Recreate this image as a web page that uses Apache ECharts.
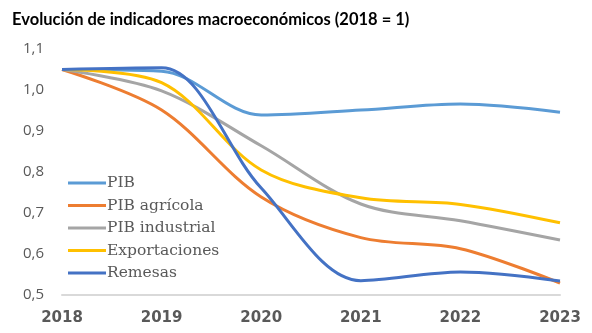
<!DOCTYPE html>
<html><head><meta charset="utf-8">
<script src="https://cdn.jsdelivr.net/npm/echarts@6/dist/echarts.min.js"></script>
<style>html,body{margin:0;padding:0;background:#fff}#c{width:592px;height:333px}</style>
</head><body><div id="c"></div>
<script>
const years = ['2018','2019','2020','2021','2022','2023'];
const pib = [1.05, 1.046, 0.939, 0.951, 0.966, 0.946];
const pibAgricola = [1.05, 0.951, 0.739, 0.640, 0.613, 0.529];
const pibIndustrial = [1.05, 0.998, 0.864, 0.722, 0.681, 0.634];
const exportaciones = [1.05, 1.018, 0.805, 0.737, 0.721, 0.676];
const remesas = [1.05, 1.054, 0.761, 0.535, 0.556, 0.534];
const seriesNames = ['PIB','PIB agrícola','PIB industrial','Exportaciones','Remesas'];
const colors = ['#5B9BD5','#ED7D31','#A5A5A5','#FFC000','#4472C4'];
const data = [pib, pibAgricola, pibIndustrial, exportaciones, remesas];

const chart = echarts.init(document.getElementById('c'));
chart.setOption({
  animation: false,
  title: {
    text: 'Evolución de indicadores macroeconómicos (2018 = 1)',
    left: 7, top: 6,
    textStyle: {fontFamily: 'Lato', fontWeight: 'bold', fontSize: 16.5, color: '#000'}
  },
  legend: {
    orient: 'vertical', left: 63, top: 170,
    icon: 'rect', itemWidth: 38, itemHeight: 3, itemGap: 6.5,
    data: seriesNames,
    textStyle: {fontFamily: 'DejaVu Serif', fontSize: 15.5, color: '#595959', padding: [0,0,0,-4], lineHeight: 13.5}
  },
  grid: {left: 62, right: 32, top: 49, bottom: 38, containLabel: false},
  xAxis: {
    type: 'category', data: years, boundaryGap: false,
    axisLine: {lineStyle: {color: '#D9D9D9', width: 2}},
    axisTick: {show: false},
    axisLabel: {fontFamily: 'DejaVu Sans', fontWeight: 'bold', fontSize: 15, color: '#595959', margin: 16}
  },
  yAxis: {
    type: 'value', min: 0.5, max: 1.1, interval: 0.1,
    axisLine: {show: false}, axisTick: {show: false},
    splitLine: {show: false},
    axisLabel: {fontFamily: 'Open Sans', fontSize: 15, color: '#595959', margin: 18,
      formatter: v => v.toFixed(1).replace('.', ',')}
  },
  series: data.map((d, i) => ({
    name: seriesNames[i], type: 'line', data: d, smooth: 0.33,
    symbol: 'none', color: colors[i],
    lineStyle: {width: 3, color: colors[i]}
  }))
});
</script></body></html>
